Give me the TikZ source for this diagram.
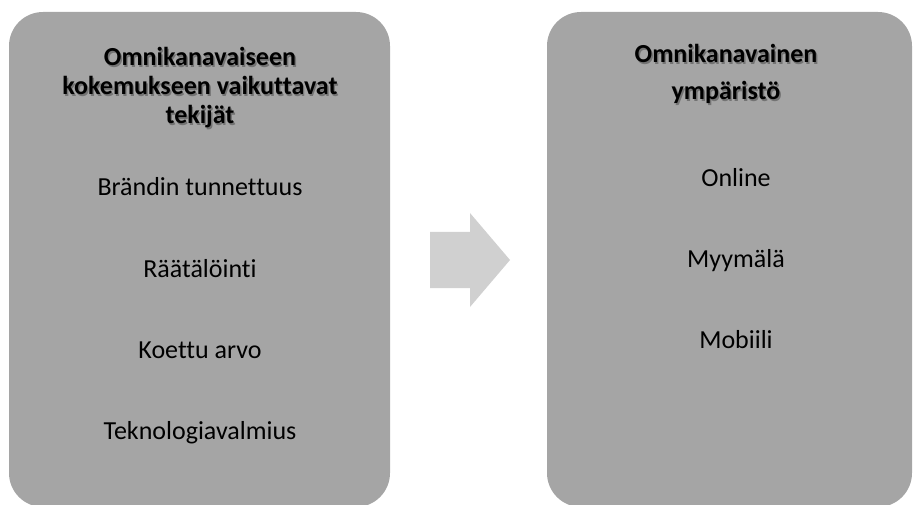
\documentclass[tikz,border=0pt]{standalone}
\usepackage{fontspec}
\setmainfont{Carlito}[Ligatures=NoCommon]
\usepackage{xcolor}
\definecolor{boxgrey}{HTML}{A5A5A5}
\definecolor{arrowgrey}{HTML}{D0D0D0}
\newcommand{\shtxt}[2]{\makebox[0pt][l]{\hspace{1.4pt}\raisebox{-1.4pt}{\textcolor{#1}{#2}}}#2}
\tikzset{
  panel/.style={fill=boxgrey, draw=none, rounded corners=34pt, inner sep=0pt},
  ttl/.style={anchor=base, inner sep=0pt, font=\fontsize{26}{30}\selectfont\bfseries, text=black},
  itm/.style={anchor=base, inner sep=0pt, font=\fontsize{26}{30}\selectfont, text=black},
  blockarrow/.style={fill=arrowgrey, draw=none}
}
\begin{document}
\begin{tikzpicture}[x=1pt, y=-1pt]
\useasboundingbox (0,0) rectangle (913,505);
% panels
\node[panel, minimum width=381pt, minimum height=495pt] (left) at (199.5,259.5) {};
\node[panel, minimum width=365pt, minimum height=495pt] (right) at (729.5,259.5) {};
% block arrow
\fill[blockarrow] (430,232) -- (470,232) -- (470,213) -- (510,260) -- (470,307) -- (470,288) -- (430,288) -- cycle;
% left title
\node[ttl] (lt1) at (200,66) {\shtxt{black!55}{Omnikanavaiseen}};
\node[ttl] (lt2) at (200,95) {\shtxt{black!55}{kokemukseen vaikuttavat}};
\node[ttl] (lt3) at (200,124) {\shtxt{black!55}{tekijät}};
% left items
\node[itm] (l1) at (200,196) {\shtxt{black!35}{Brändin tunnettuus}};
\node[itm] (l2) at (200,277) {\shtxt{black!35}{Räätälöinti}};
\node[itm] (l3) at (200,358) {\shtxt{black!35}{Koettu arvo}};
\node[itm] (l4) at (200,439) {\shtxt{black!35}{Teknologiavalmius}};
% right title
\node[ttl] (rt1) at (726,63) {\shtxt{black!55}{Omnikanavainen}};
\node[ttl] (rt2) at (726,100) {\shtxt{black!55}{ympäristö}};
% right items
\node[itm] (r1) at (736,187) {\shtxt{black!35}{Online}};
\node[itm] (r2) at (736,267) {\shtxt{black!35}{Myymälä}};
\node[itm] (r3) at (736,348) {\shtxt{black!35}{Mobiili}};
\end{tikzpicture}
\end{document}
